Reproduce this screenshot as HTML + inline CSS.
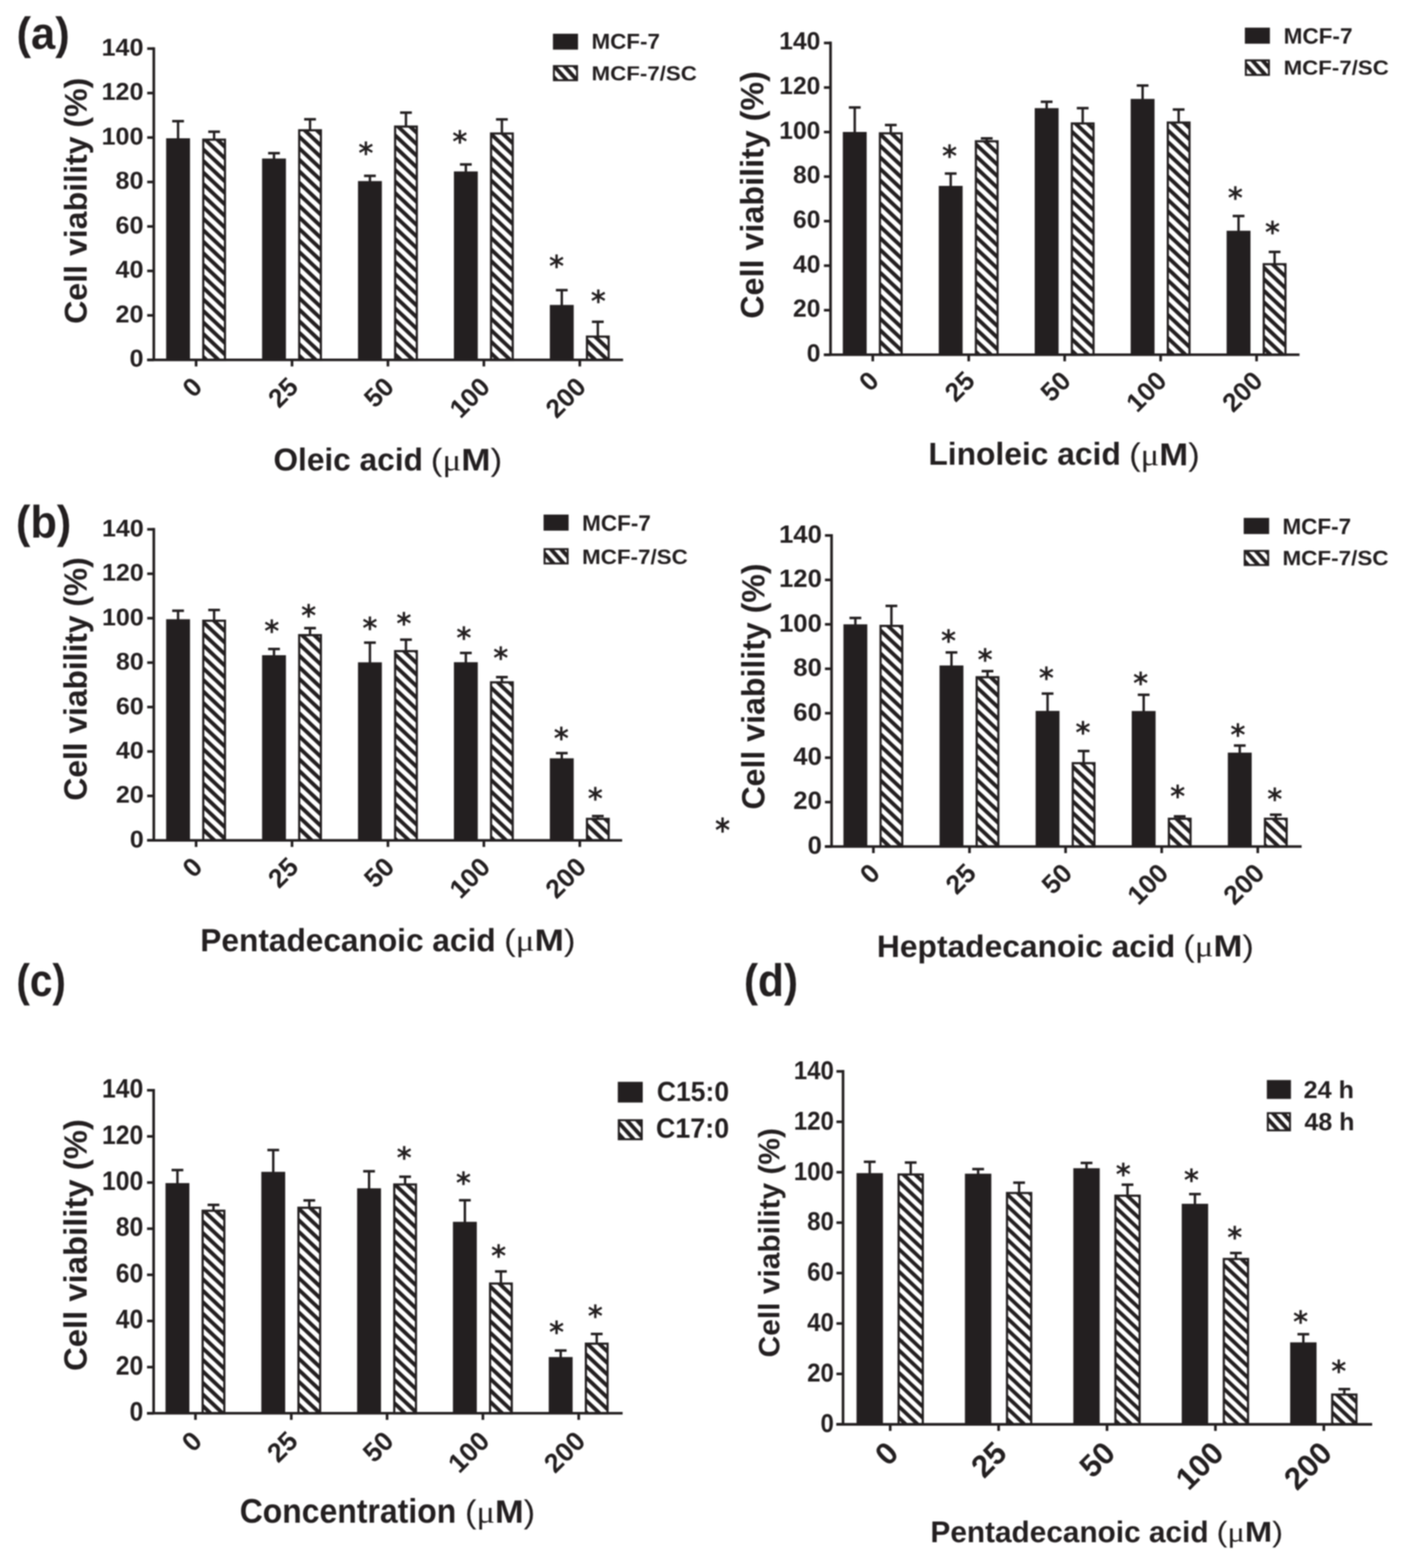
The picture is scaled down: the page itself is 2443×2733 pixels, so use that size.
<!DOCTYPE html>
<html><head><meta charset="utf-8"><title>Cell viability figure</title><style>
html,body{margin:0;padding:0;background:#fff;}
svg{display:block;filter:blur(0.8px);}
line{stroke:#231f20;}
text{font-family:'Liberation Sans', Arial, Helvetica, sans-serif;font-weight:bold;fill:#231f20;text-rendering:geometricPrecision;}
.st{font-family:'DejaVu Sans', sans-serif;font-size:50px;text-anchor:middle;}
</style></head><body>
<svg width="2443" height="2733" viewBox="0 0 2443 2733">
<defs>
<pattern id="hA" patternUnits="userSpaceOnUse" width="14.58" height="14.58" patternTransform="rotate(43.5)"><rect width="14.58" height="14.58" fill="#fff"/><rect width="14.58" height="6.71" fill="#231f20"/></pattern>
<pattern id="hA2" patternUnits="userSpaceOnUse" width="14.58" height="14.58" patternTransform="rotate(43.5)"><rect width="14.58" height="14.58" fill="#fff"/><rect width="14.58" height="6.71" fill="#231f20"/></pattern>
<pattern id="hB" patternUnits="userSpaceOnUse" width="14.58" height="14.58" patternTransform="rotate(43.5)"><rect width="14.58" height="14.58" fill="#fff"/><rect width="14.58" height="6.71" fill="#231f20"/></pattern>
<pattern id="hB2" patternUnits="userSpaceOnUse" width="14.58" height="14.58" patternTransform="rotate(43.5)"><rect width="14.58" height="14.58" fill="#fff"/><rect width="14.58" height="6.71" fill="#231f20"/></pattern>
<pattern id="hC" patternUnits="userSpaceOnUse" width="14.58" height="14.58" patternTransform="rotate(43.5)"><rect width="14.58" height="14.58" fill="#fff"/><rect width="14.58" height="6.71" fill="#231f20"/></pattern>
<pattern id="hD" patternUnits="userSpaceOnUse" width="14.22" height="14.22" patternTransform="rotate(43.5)"><rect width="14.22" height="14.22" fill="#fff"/><rect width="14.22" height="6.54" fill="#231f20"/></pattern>
<pattern id="hL" patternUnits="userSpaceOnUse" width="13.2" height="13.2" patternTransform="rotate(48) translate(0 3)"><rect width="13.2" height="13.2" fill="#fff"/><rect width="13.2" height="6.8" fill="#231f20"/></pattern>
</defs>
<rect width="2443" height="2733" fill="#fff" stroke="none"/>
<g id="panel_A"><line x1="310.3" y1="242" x2="310.3" y2="211.2" stroke-width="4.2"/>
<line x1="300.05" y1="211.2" x2="320.55" y2="211.2" stroke-width="4.4"/>
<rect x="289.5" y="241" width="41.6" height="386.2" fill="#231f20" stroke="none"/>
<line x1="373.1" y1="242.5" x2="373.1" y2="229.6" stroke-width="4.2"/>
<line x1="362.85" y1="229.6" x2="383.35" y2="229.6" stroke-width="4.4"/>
<rect x="354.2" y="243.4" width="37.8" height="383.8" fill="url(#hA)" stroke="#231f20" stroke-width="3.8"/>
<line x1="477.45" y1="277.3" x2="477.45" y2="267" stroke-width="4.2"/>
<line x1="467.2" y1="267" x2="487.7" y2="267" stroke-width="4.4"/>
<rect x="456.65" y="276.3" width="41.6" height="350.9" fill="#231f20" stroke="none"/>
<line x1="540.25" y1="226.2" x2="540.25" y2="207.9" stroke-width="4.2"/>
<line x1="530" y1="207.9" x2="550.5" y2="207.9" stroke-width="4.4"/>
<rect x="521.35" y="227.1" width="37.8" height="400.1" fill="url(#hA)" stroke="#231f20" stroke-width="3.8"/>
<line x1="644.6" y1="316.6" x2="644.6" y2="306.5" stroke-width="4.2"/>
<line x1="634.35" y1="306.5" x2="654.85" y2="306.5" stroke-width="4.4"/>
<rect x="623.8" y="315.6" width="41.6" height="311.6" fill="#231f20" stroke="none"/>
<text class="st" transform="translate(637.5 258.6) scale(1 1.04)" y="25.5">*</text>
<line x1="707.4" y1="219.7" x2="707.4" y2="196.3" stroke-width="4.2"/>
<line x1="697.15" y1="196.3" x2="717.65" y2="196.3" stroke-width="4.4"/>
<rect x="688.5" y="220.6" width="37.8" height="406.6" fill="url(#hA)" stroke="#231f20" stroke-width="3.8"/>
<line x1="811.75" y1="299.8" x2="811.75" y2="286.6" stroke-width="4.2"/>
<line x1="801.5" y1="286.6" x2="822" y2="286.6" stroke-width="4.4"/>
<rect x="790.95" y="298.8" width="41.6" height="328.4" fill="#231f20" stroke="none"/>
<text class="st" transform="translate(801.3 238) scale(1 1.04)" y="25.5">*</text>
<line x1="874.55" y1="231.8" x2="874.55" y2="208.1" stroke-width="4.2"/>
<line x1="864.3" y1="208.1" x2="884.8" y2="208.1" stroke-width="4.4"/>
<rect x="855.65" y="232.7" width="37.8" height="394.5" fill="url(#hA)" stroke="#231f20" stroke-width="3.8"/>
<line x1="978.9" y1="532.5" x2="978.9" y2="505.7" stroke-width="4.2"/>
<line x1="968.65" y1="505.7" x2="989.15" y2="505.7" stroke-width="4.4"/>
<rect x="958.1" y="531.5" width="41.6" height="95.7" fill="#231f20" stroke="none"/>
<text class="st" transform="translate(969.8 455.2) scale(1 1.04)" y="25.5">*</text>
<line x1="1041.7" y1="585.8" x2="1041.7" y2="560.9" stroke-width="4.2"/>
<line x1="1031.45" y1="560.9" x2="1051.95" y2="560.9" stroke-width="4.4"/>
<rect x="1022.8" y="586.7" width="37.8" height="40.5" fill="url(#hA)" stroke="#231f20" stroke-width="3.8"/>
<text class="st" transform="translate(1042.5 516.7) scale(1 1.04)" y="25.5">*</text>
<line x1="268" y1="82.4" x2="268" y2="627.2" stroke-width="4.6"/>
<line x1="256.5" y1="627.2" x2="1085.7" y2="627.2" stroke-width="4.6"/>
<line x1="256.5" y1="627.2" x2="268" y2="627.2" stroke-width="4.6"/>
<line x1="256.5" y1="549.7" x2="268" y2="549.7" stroke-width="4.6"/>
<line x1="256.5" y1="472.2" x2="268" y2="472.2" stroke-width="4.6"/>
<line x1="256.5" y1="394.7" x2="268" y2="394.7" stroke-width="4.6"/>
<line x1="256.5" y1="317.2" x2="268" y2="317.2" stroke-width="4.6"/>
<line x1="256.5" y1="239.7" x2="268" y2="239.7" stroke-width="4.6"/>
<line x1="256.5" y1="162.2" x2="268" y2="162.2" stroke-width="4.6"/>
<line x1="256.5" y1="84.7" x2="268" y2="84.7" stroke-width="4.6"/>
<line x1="341.7" y1="627.2" x2="341.7" y2="638.7" stroke-width="4.6"/>
<line x1="508.85" y1="627.2" x2="508.85" y2="638.7" stroke-width="4.6"/>
<line x1="676" y1="627.2" x2="676" y2="638.7" stroke-width="4.6"/>
<line x1="843.15" y1="627.2" x2="843.15" y2="638.7" stroke-width="4.6"/>
<line x1="1010.3" y1="627.2" x2="1010.3" y2="638.7" stroke-width="4.6"/>
<text id="yl_A_0" x="250.06" y="639.21" font-size="42.63" textLength="24.34" lengthAdjust="spacingAndGlyphs" text-anchor="end">0</text>
<text id="yl_A_1" x="250.06" y="561.71" font-size="42.63" textLength="48.69" lengthAdjust="spacingAndGlyphs" text-anchor="end">20</text>
<text id="yl_A_2" x="250.06" y="484.21" font-size="42.63" textLength="48.69" lengthAdjust="spacingAndGlyphs" text-anchor="end">40</text>
<text id="yl_A_3" x="250.06" y="406.71" font-size="42.63" textLength="48.69" lengthAdjust="spacingAndGlyphs" text-anchor="end">60</text>
<text id="yl_A_4" x="250.06" y="329.21" font-size="42.63" textLength="48.69" lengthAdjust="spacingAndGlyphs" text-anchor="end">80</text>
<text id="yl_A_5" x="250.06" y="251.71" font-size="42.63" textLength="73.03" lengthAdjust="spacingAndGlyphs" text-anchor="end">100</text>
<text id="yl_A_6" x="250.06" y="174.21" font-size="42.63" textLength="73.03" lengthAdjust="spacingAndGlyphs" text-anchor="end">120</text>
<text id="yl_A_7" x="250.06" y="96.71" font-size="42.63" textLength="73.03" lengthAdjust="spacingAndGlyphs" text-anchor="end">140</text>
<text id="xl_A_0" transform="translate(355.01 677.01) rotate(-45)" font-size="45.73" text-anchor="end">0</text>
<text id="xl_A_1" transform="translate(522.16 677.01) rotate(-45)" font-size="45.73" text-anchor="end">25</text>
<text id="xl_A_2" transform="translate(689.31 677.01) rotate(-45)" font-size="45.73" text-anchor="end">50</text>
<text id="xl_A_3" transform="translate(856.46 677.01) rotate(-45)" font-size="45.73" text-anchor="end">100</text>
<text id="xl_A_4" transform="translate(1023.61 677.01) rotate(-45)" font-size="45.73" text-anchor="end">200</text>
<rect x="963.5" y="58.8" width="43.7" height="27.7" fill="#231f20" stroke="none"/>
<rect x="965.2" y="115.2" width="40.3" height="24.6" fill="url(#hL)" stroke="#231f20" stroke-width="3.4"/></g>
<g id="panel_A2"><line x1="1489.4" y1="231" x2="1489.4" y2="187.3" stroke-width="4.2"/>
<line x1="1479.15" y1="187.3" x2="1499.65" y2="187.3" stroke-width="4.4"/>
<rect x="1468.6" y="230" width="41.6" height="388.3" fill="#231f20" stroke="none"/>
<line x1="1552.2" y1="231.5" x2="1552.2" y2="217.9" stroke-width="4.2"/>
<line x1="1541.95" y1="217.9" x2="1562.45" y2="217.9" stroke-width="4.4"/>
<rect x="1533.3" y="232.4" width="37.8" height="385.9" fill="url(#hA2)" stroke="#231f20" stroke-width="3.8"/>
<line x1="1656.6" y1="325" x2="1656.6" y2="302.5" stroke-width="4.2"/>
<line x1="1646.35" y1="302.5" x2="1666.85" y2="302.5" stroke-width="4.4"/>
<rect x="1635.8" y="324" width="41.6" height="294.3" fill="#231f20" stroke="none"/>
<text class="st" transform="translate(1654.7 263.4) scale(1 1.04)" y="25.5">*</text>
<line x1="1719.4" y1="245.4" x2="1719.4" y2="241.2" stroke-width="4.2"/>
<line x1="1709.15" y1="241.2" x2="1729.65" y2="241.2" stroke-width="4.4"/>
<rect x="1700.5" y="246.3" width="37.8" height="372" fill="url(#hA2)" stroke="#231f20" stroke-width="3.8"/>
<line x1="1823.8" y1="189.5" x2="1823.8" y2="177.4" stroke-width="4.2"/>
<line x1="1813.55" y1="177.4" x2="1834.05" y2="177.4" stroke-width="4.4"/>
<rect x="1803" y="188.5" width="41.6" height="429.8" fill="#231f20" stroke="none"/>
<line x1="1886.6" y1="214.3" x2="1886.6" y2="188.5" stroke-width="4.2"/>
<line x1="1876.35" y1="188.5" x2="1896.85" y2="188.5" stroke-width="4.4"/>
<rect x="1867.7" y="215.2" width="37.8" height="403.1" fill="url(#hA2)" stroke="#231f20" stroke-width="3.8"/>
<line x1="1991" y1="173.4" x2="1991" y2="149.1" stroke-width="4.2"/>
<line x1="1980.75" y1="149.1" x2="2001.25" y2="149.1" stroke-width="4.4"/>
<rect x="1970.2" y="172.4" width="41.6" height="445.9" fill="#231f20" stroke="none"/>
<line x1="2053.8" y1="212.7" x2="2053.8" y2="190.9" stroke-width="4.2"/>
<line x1="2043.55" y1="190.9" x2="2064.05" y2="190.9" stroke-width="4.4"/>
<rect x="2034.9" y="213.6" width="37.8" height="404.7" fill="url(#hA2)" stroke="#231f20" stroke-width="3.8"/>
<line x1="2158.2" y1="403.2" x2="2158.2" y2="376.5" stroke-width="4.2"/>
<line x1="2147.95" y1="376.5" x2="2168.45" y2="376.5" stroke-width="4.4"/>
<rect x="2137.4" y="402.2" width="41.6" height="216.1" fill="#231f20" stroke="none"/>
<text class="st" transform="translate(2152.6 336.8) scale(1 1.04)" y="25.5">*</text>
<line x1="2221" y1="459.6" x2="2221" y2="439.1" stroke-width="4.2"/>
<line x1="2210.75" y1="439.1" x2="2231.25" y2="439.1" stroke-width="4.4"/>
<rect x="2202.1" y="460.5" width="37.8" height="157.8" fill="url(#hA2)" stroke="#231f20" stroke-width="3.8"/>
<text class="st" transform="translate(2217.4 396.8) scale(1 1.04)" y="25.5">*</text>
<line x1="1447.2" y1="72.6" x2="1447.2" y2="618.3" stroke-width="4.6"/>
<line x1="1435.7" y1="618.3" x2="2264.4" y2="618.3" stroke-width="4.6"/>
<line x1="1435.7" y1="618.3" x2="1447.2" y2="618.3" stroke-width="4.6"/>
<line x1="1435.7" y1="540.67" x2="1447.2" y2="540.67" stroke-width="4.6"/>
<line x1="1435.7" y1="463.04" x2="1447.2" y2="463.04" stroke-width="4.6"/>
<line x1="1435.7" y1="385.41" x2="1447.2" y2="385.41" stroke-width="4.6"/>
<line x1="1435.7" y1="307.79" x2="1447.2" y2="307.79" stroke-width="4.6"/>
<line x1="1435.7" y1="230.16" x2="1447.2" y2="230.16" stroke-width="4.6"/>
<line x1="1435.7" y1="152.53" x2="1447.2" y2="152.53" stroke-width="4.6"/>
<line x1="1435.7" y1="74.9" x2="1447.2" y2="74.9" stroke-width="4.6"/>
<line x1="1520.8" y1="618.3" x2="1520.8" y2="629.8" stroke-width="4.6"/>
<line x1="1688" y1="618.3" x2="1688" y2="629.8" stroke-width="4.6"/>
<line x1="1855.2" y1="618.3" x2="1855.2" y2="629.8" stroke-width="4.6"/>
<line x1="2022.4" y1="618.3" x2="2022.4" y2="629.8" stroke-width="4.6"/>
<line x1="2189.6" y1="618.3" x2="2189.6" y2="629.8" stroke-width="4.6"/>
<text id="yl_A2_0" x="1429.55" y="629.77" font-size="43.17" textLength="23.92" lengthAdjust="spacingAndGlyphs" text-anchor="end">0</text>
<text id="yl_A2_1" x="1429.55" y="552.14" font-size="43.17" textLength="47.83" lengthAdjust="spacingAndGlyphs" text-anchor="end">20</text>
<text id="yl_A2_2" x="1429.55" y="474.51" font-size="43.17" textLength="47.83" lengthAdjust="spacingAndGlyphs" text-anchor="end">40</text>
<text id="yl_A2_3" x="1429.55" y="396.88" font-size="43.17" textLength="47.83" lengthAdjust="spacingAndGlyphs" text-anchor="end">60</text>
<text id="yl_A2_4" x="1429.55" y="319.25" font-size="43.17" textLength="47.83" lengthAdjust="spacingAndGlyphs" text-anchor="end">80</text>
<text id="yl_A2_5" x="1429.55" y="241.62" font-size="43.17" textLength="71.75" lengthAdjust="spacingAndGlyphs" text-anchor="end">100</text>
<text id="yl_A2_6" x="1429.55" y="164" font-size="43.17" textLength="71.75" lengthAdjust="spacingAndGlyphs" text-anchor="end">120</text>
<text id="yl_A2_7" x="1429.55" y="86.37" font-size="43.17" textLength="71.75" lengthAdjust="spacingAndGlyphs" text-anchor="end">140</text>
<text id="xl_A2_0" transform="translate(1534.03 666.57) rotate(-45)" font-size="45.86" text-anchor="end">0</text>
<text id="xl_A2_1" transform="translate(1701.23 666.57) rotate(-45)" font-size="45.86" text-anchor="end">25</text>
<text id="xl_A2_2" transform="translate(1868.43 666.57) rotate(-45)" font-size="45.86" text-anchor="end">50</text>
<text id="xl_A2_3" transform="translate(2035.63 666.57) rotate(-45)" font-size="45.86" text-anchor="end">100</text>
<text id="xl_A2_4" transform="translate(2202.83 666.57) rotate(-45)" font-size="45.86" text-anchor="end">200</text>
<rect x="2169.2" y="48.2" width="43.6" height="28" fill="#231f20" stroke="none"/>
<rect x="2170.9" y="105.2" width="40.2" height="25.4" fill="url(#hL)" stroke="#231f20" stroke-width="3.4"/></g>
<g id="panel_B"><line x1="310.3" y1="1080.3" x2="310.3" y2="1064.5" stroke-width="4.2"/>
<line x1="300.05" y1="1064.5" x2="320.55" y2="1064.5" stroke-width="4.4"/>
<rect x="289.5" y="1079.3" width="41.6" height="385.4" fill="#231f20" stroke="none"/>
<line x1="373.1" y1="1081" x2="373.1" y2="1063.2" stroke-width="4.2"/>
<line x1="362.85" y1="1063.2" x2="383.35" y2="1063.2" stroke-width="4.4"/>
<rect x="354.2" y="1081.9" width="37.8" height="382.8" fill="url(#hB)" stroke="#231f20" stroke-width="3.8"/>
<line x1="477.45" y1="1143" x2="477.45" y2="1131.2" stroke-width="4.2"/>
<line x1="467.2" y1="1131.2" x2="487.7" y2="1131.2" stroke-width="4.4"/>
<rect x="456.65" y="1142" width="41.6" height="322.7" fill="#231f20" stroke="none"/>
<text class="st" transform="translate(473.5 1091.7) scale(1 1.04)" y="25.5">*</text>
<line x1="540.25" y1="1106.1" x2="540.25" y2="1094.8" stroke-width="4.2"/>
<line x1="530" y1="1094.8" x2="550.5" y2="1094.8" stroke-width="4.4"/>
<rect x="521.35" y="1107" width="37.8" height="357.7" fill="url(#hB)" stroke="#231f20" stroke-width="3.8"/>
<text class="st" transform="translate(537.8 1064.5) scale(1 1.04)" y="25.5">*</text>
<line x1="644.6" y1="1155.4" x2="644.6" y2="1120.1" stroke-width="4.2"/>
<line x1="634.35" y1="1120.1" x2="654.85" y2="1120.1" stroke-width="4.4"/>
<rect x="623.8" y="1154.4" width="41.6" height="310.3" fill="#231f20" stroke="none"/>
<text class="st" transform="translate(644.5 1086.5) scale(1 1.04)" y="25.5">*</text>
<line x1="707.4" y1="1134" x2="707.4" y2="1114.9" stroke-width="4.2"/>
<line x1="697.15" y1="1114.9" x2="717.65" y2="1114.9" stroke-width="4.4"/>
<rect x="688.5" y="1134.9" width="37.8" height="329.8" fill="url(#hB)" stroke="#231f20" stroke-width="3.8"/>
<text class="st" transform="translate(703.9 1078.7) scale(1 1.04)" y="25.5">*</text>
<line x1="811.75" y1="1155.2" x2="811.75" y2="1138.1" stroke-width="4.2"/>
<line x1="801.5" y1="1138.1" x2="822" y2="1138.1" stroke-width="4.4"/>
<rect x="790.95" y="1154.2" width="41.6" height="310.5" fill="#231f20" stroke="none"/>
<text class="st" transform="translate(808.3 1103.3) scale(1 1.04)" y="25.5">*</text>
<line x1="874.55" y1="1188.4" x2="874.55" y2="1180.2" stroke-width="4.2"/>
<line x1="864.3" y1="1180.2" x2="884.8" y2="1180.2" stroke-width="4.4"/>
<rect x="855.65" y="1189.3" width="37.8" height="275.4" fill="url(#hB)" stroke="#231f20" stroke-width="3.8"/>
<text class="st" transform="translate(872.7 1138.5) scale(1 1.04)" y="25.5">*</text>
<line x1="978.9" y1="1322.7" x2="978.9" y2="1312.7" stroke-width="4.2"/>
<line x1="968.65" y1="1312.7" x2="989.15" y2="1312.7" stroke-width="4.4"/>
<rect x="958.1" y="1321.7" width="41.6" height="143" fill="#231f20" stroke="none"/>
<text class="st" transform="translate(978 1278.4) scale(1 1.04)" y="25.5">*</text>
<line x1="1041.7" y1="1426.4" x2="1041.7" y2="1422.4" stroke-width="4.2"/>
<line x1="1031.45" y1="1422.4" x2="1051.95" y2="1422.4" stroke-width="4.4"/>
<rect x="1022.8" y="1427.3" width="37.8" height="37.4" fill="url(#hB)" stroke="#231f20" stroke-width="3.8"/>
<text class="st" transform="translate(1037.4 1383.1) scale(1 1.04)" y="25.5">*</text>
<line x1="268" y1="920.3" x2="268" y2="1464.7" stroke-width="4.6"/>
<line x1="256.5" y1="1464.7" x2="1084.1" y2="1464.7" stroke-width="4.6"/>
<line x1="256.5" y1="1464.7" x2="268" y2="1464.7" stroke-width="4.6"/>
<line x1="256.5" y1="1387.26" x2="268" y2="1387.26" stroke-width="4.6"/>
<line x1="256.5" y1="1309.81" x2="268" y2="1309.81" stroke-width="4.6"/>
<line x1="256.5" y1="1232.37" x2="268" y2="1232.37" stroke-width="4.6"/>
<line x1="256.5" y1="1154.93" x2="268" y2="1154.93" stroke-width="4.6"/>
<line x1="256.5" y1="1077.49" x2="268" y2="1077.49" stroke-width="4.6"/>
<line x1="256.5" y1="1000.04" x2="268" y2="1000.04" stroke-width="4.6"/>
<line x1="256.5" y1="922.6" x2="268" y2="922.6" stroke-width="4.6"/>
<line x1="341.7" y1="1464.7" x2="341.7" y2="1476.2" stroke-width="4.6"/>
<line x1="508.85" y1="1464.7" x2="508.85" y2="1476.2" stroke-width="4.6"/>
<line x1="676" y1="1464.7" x2="676" y2="1476.2" stroke-width="4.6"/>
<line x1="843.15" y1="1464.7" x2="843.15" y2="1476.2" stroke-width="4.6"/>
<line x1="1010.3" y1="1464.7" x2="1010.3" y2="1476.2" stroke-width="4.6"/>
<text id="yl_B_0" x="250.56" y="1476.87" font-size="42.05" textLength="24.26" lengthAdjust="spacingAndGlyphs" text-anchor="end">0</text>
<text id="yl_B_1" x="250.56" y="1399.43" font-size="42.05" textLength="48.51" lengthAdjust="spacingAndGlyphs" text-anchor="end">20</text>
<text id="yl_B_2" x="250.56" y="1321.98" font-size="42.05" textLength="48.51" lengthAdjust="spacingAndGlyphs" text-anchor="end">40</text>
<text id="yl_B_3" x="250.56" y="1244.54" font-size="42.05" textLength="48.51" lengthAdjust="spacingAndGlyphs" text-anchor="end">60</text>
<text id="yl_B_4" x="250.56" y="1167.1" font-size="42.05" textLength="48.51" lengthAdjust="spacingAndGlyphs" text-anchor="end">80</text>
<text id="yl_B_5" x="250.56" y="1089.66" font-size="42.05" textLength="72.77" lengthAdjust="spacingAndGlyphs" text-anchor="end">100</text>
<text id="yl_B_6" x="250.56" y="1012.21" font-size="42.05" textLength="72.77" lengthAdjust="spacingAndGlyphs" text-anchor="end">120</text>
<text id="yl_B_7" x="250.56" y="934.77" font-size="42.05" textLength="72.77" lengthAdjust="spacingAndGlyphs" text-anchor="end">140</text>
<text id="xl_B_0" transform="translate(355.49 1513.91) rotate(-45)" font-size="46.18" text-anchor="end">0</text>
<text id="xl_B_1" transform="translate(522.64 1513.91) rotate(-45)" font-size="46.18" text-anchor="end">25</text>
<text id="xl_B_2" transform="translate(689.79 1513.91) rotate(-45)" font-size="46.18" text-anchor="end">50</text>
<text id="xl_B_3" transform="translate(856.94 1513.91) rotate(-45)" font-size="46.18" text-anchor="end">100</text>
<text id="xl_B_4" transform="translate(1024.09 1513.91) rotate(-45)" font-size="46.18" text-anchor="end">200</text>
<rect x="947.2" y="896.9" width="43.6" height="28" fill="#231f20" stroke="none"/>
<rect x="948.9" y="957.1" width="40.2" height="25" fill="url(#hL)" stroke="#231f20" stroke-width="3.4"/></g>
<g id="panel_B2"><line x1="1490.5" y1="1089.2" x2="1490.5" y2="1077.1" stroke-width="4.2"/>
<line x1="1480.25" y1="1077.1" x2="1500.75" y2="1077.1" stroke-width="4.4"/>
<rect x="1469.7" y="1088.2" width="41.6" height="387.3" fill="#231f20" stroke="none"/>
<line x1="1553.3" y1="1090" x2="1553.3" y2="1056.1" stroke-width="4.2"/>
<line x1="1543.05" y1="1056.1" x2="1563.55" y2="1056.1" stroke-width="4.4"/>
<rect x="1534.4" y="1090.9" width="37.8" height="384.6" fill="url(#hB2)" stroke="#231f20" stroke-width="3.8"/>
<line x1="1657.95" y1="1160.9" x2="1657.95" y2="1137.2" stroke-width="4.2"/>
<line x1="1647.7" y1="1137.2" x2="1668.2" y2="1137.2" stroke-width="4.4"/>
<rect x="1637.15" y="1159.9" width="41.6" height="315.6" fill="#231f20" stroke="none"/>
<text class="st" transform="translate(1652.8 1108) scale(1 1.04)" y="25.5">*</text>
<line x1="1720.75" y1="1179.5" x2="1720.75" y2="1169.8" stroke-width="4.2"/>
<line x1="1710.5" y1="1169.8" x2="1731" y2="1169.8" stroke-width="4.4"/>
<rect x="1701.85" y="1180.4" width="37.8" height="295.1" fill="url(#hB2)" stroke="#231f20" stroke-width="3.8"/>
<text class="st" transform="translate(1716.6 1141.4) scale(1 1.04)" y="25.5">*</text>
<line x1="1825.4" y1="1240.1" x2="1825.4" y2="1208.9" stroke-width="4.2"/>
<line x1="1815.15" y1="1208.9" x2="1835.65" y2="1208.9" stroke-width="4.4"/>
<rect x="1804.6" y="1239.1" width="41.6" height="236.4" fill="#231f20" stroke="none"/>
<text class="st" transform="translate(1823.4 1173.5) scale(1 1.04)" y="25.5">*</text>
<line x1="1888.2" y1="1329.3" x2="1888.2" y2="1309" stroke-width="4.2"/>
<line x1="1877.95" y1="1309" x2="1898.45" y2="1309" stroke-width="4.4"/>
<rect x="1869.3" y="1330.2" width="37.8" height="145.3" fill="url(#hB2)" stroke="#231f20" stroke-width="3.8"/>
<text class="st" transform="translate(1887 1268.8) scale(1 1.04)" y="25.5">*</text>
<line x1="1992.85" y1="1240.3" x2="1992.85" y2="1211" stroke-width="4.2"/>
<line x1="1982.6" y1="1211" x2="2003.1" y2="1211" stroke-width="4.4"/>
<rect x="1972.05" y="1239.3" width="41.6" height="236.2" fill="#231f20" stroke="none"/>
<text class="st" transform="translate(1987.7 1182.6) scale(1 1.04)" y="25.5">*</text>
<line x1="2055.65" y1="1426.2" x2="2055.65" y2="1422.9" stroke-width="4.2"/>
<line x1="2045.4" y1="1422.9" x2="2065.9" y2="1422.9" stroke-width="4.4"/>
<rect x="2036.75" y="1427.1" width="37.8" height="48.4" fill="url(#hB2)" stroke="#231f20" stroke-width="3.8"/>
<text class="st" transform="translate(2052 1379.9) scale(1 1.04)" y="25.5">*</text>
<line x1="2160.3" y1="1312.8" x2="2160.3" y2="1299.5" stroke-width="4.2"/>
<line x1="2150.05" y1="1299.5" x2="2170.55" y2="1299.5" stroke-width="4.4"/>
<rect x="2139.5" y="1311.8" width="41.6" height="163.7" fill="#231f20" stroke="none"/>
<text class="st" transform="translate(2157.1 1272.4) scale(1 1.04)" y="25.5">*</text>
<line x1="2223.1" y1="1426.2" x2="2223.1" y2="1420" stroke-width="4.2"/>
<line x1="2212.85" y1="1420" x2="2233.35" y2="1420" stroke-width="4.4"/>
<rect x="2204.2" y="1427.1" width="37.8" height="48.4" fill="url(#hB2)" stroke="#231f20" stroke-width="3.8"/>
<text class="st" transform="translate(2221.4 1384.6) scale(1 1.04)" y="25.5">*</text>
<line x1="1449" y1="931" x2="1449" y2="1475.5" stroke-width="4.6"/>
<line x1="1437.5" y1="1475.5" x2="2268.1" y2="1475.5" stroke-width="4.6"/>
<line x1="1437.5" y1="1475.5" x2="1449" y2="1475.5" stroke-width="4.6"/>
<line x1="1437.5" y1="1398.04" x2="1449" y2="1398.04" stroke-width="4.6"/>
<line x1="1437.5" y1="1320.59" x2="1449" y2="1320.59" stroke-width="4.6"/>
<line x1="1437.5" y1="1243.13" x2="1449" y2="1243.13" stroke-width="4.6"/>
<line x1="1437.5" y1="1165.67" x2="1449" y2="1165.67" stroke-width="4.6"/>
<line x1="1437.5" y1="1088.21" x2="1449" y2="1088.21" stroke-width="4.6"/>
<line x1="1437.5" y1="1010.76" x2="1449" y2="1010.76" stroke-width="4.6"/>
<line x1="1437.5" y1="933.3" x2="1449" y2="933.3" stroke-width="4.6"/>
<line x1="1521.9" y1="1475.5" x2="1521.9" y2="1487" stroke-width="4.6"/>
<line x1="1689.35" y1="1475.5" x2="1689.35" y2="1487" stroke-width="4.6"/>
<line x1="1856.8" y1="1475.5" x2="1856.8" y2="1487" stroke-width="4.6"/>
<line x1="2024.25" y1="1475.5" x2="2024.25" y2="1487" stroke-width="4.6"/>
<line x1="2191.7" y1="1475.5" x2="2191.7" y2="1487" stroke-width="4.6"/>
<text id="yl_B2_0" x="1432.1" y="1487.94" font-size="43.69" textLength="24.9" lengthAdjust="spacingAndGlyphs" text-anchor="end">0</text>
<text id="yl_B2_1" x="1432.1" y="1410.49" font-size="43.69" textLength="49.79" lengthAdjust="spacingAndGlyphs" text-anchor="end">20</text>
<text id="yl_B2_2" x="1432.1" y="1333.03" font-size="43.69" textLength="49.79" lengthAdjust="spacingAndGlyphs" text-anchor="end">40</text>
<text id="yl_B2_3" x="1432.1" y="1255.57" font-size="43.69" textLength="49.79" lengthAdjust="spacingAndGlyphs" text-anchor="end">60</text>
<text id="yl_B2_4" x="1432.1" y="1178.11" font-size="43.69" textLength="49.79" lengthAdjust="spacingAndGlyphs" text-anchor="end">80</text>
<text id="yl_B2_5" x="1432.1" y="1100.66" font-size="43.69" textLength="74.69" lengthAdjust="spacingAndGlyphs" text-anchor="end">100</text>
<text id="yl_B2_6" x="1432.1" y="1023.2" font-size="43.69" textLength="74.69" lengthAdjust="spacingAndGlyphs" text-anchor="end">120</text>
<text id="yl_B2_7" x="1432.1" y="945.74" font-size="43.69" textLength="74.69" lengthAdjust="spacingAndGlyphs" text-anchor="end">140</text>
<text id="xl_B2_0" transform="translate(1536.17 1524.7) rotate(-45)" font-size="46.5" text-anchor="end">0</text>
<text id="xl_B2_1" transform="translate(1703.62 1524.7) rotate(-45)" font-size="46.5" text-anchor="end">25</text>
<text id="xl_B2_2" transform="translate(1871.07 1524.7) rotate(-45)" font-size="46.5" text-anchor="end">50</text>
<text id="xl_B2_3" transform="translate(2038.52 1524.7) rotate(-45)" font-size="46.5" text-anchor="end">100</text>
<text id="xl_B2_4" transform="translate(2205.97 1524.7) rotate(-45)" font-size="46.5" text-anchor="end">200</text>
<rect x="2167.2" y="902.7" width="44.3" height="28.1" fill="#231f20" stroke="none"/>
<rect x="2168.9" y="960.2" width="40.9" height="24.6" fill="url(#hL)" stroke="#231f20" stroke-width="3.4"/></g>
<g id="panel_C"><line x1="309.2" y1="2063.1" x2="309.2" y2="2039.4" stroke-width="4.2"/>
<line x1="298.95" y1="2039.4" x2="319.45" y2="2039.4" stroke-width="4.4"/>
<rect x="288.4" y="2062.1" width="41.6" height="401.2" fill="#231f20" stroke="none"/>
<line x1="372" y1="2109.4" x2="372" y2="2100.1" stroke-width="4.2"/>
<line x1="361.75" y1="2100.1" x2="382.25" y2="2100.1" stroke-width="4.4"/>
<rect x="353.1" y="2110.3" width="37.8" height="353" fill="url(#hC)" stroke="#231f20" stroke-width="3.8"/>
<line x1="476.15" y1="2043.5" x2="476.15" y2="2004.5" stroke-width="4.2"/>
<line x1="465.9" y1="2004.5" x2="486.4" y2="2004.5" stroke-width="4.4"/>
<rect x="455.35" y="2042.5" width="41.6" height="420.8" fill="#231f20" stroke="none"/>
<line x1="538.95" y1="2104.2" x2="538.95" y2="2092.3" stroke-width="4.2"/>
<line x1="528.7" y1="2092.3" x2="549.2" y2="2092.3" stroke-width="4.4"/>
<rect x="520.05" y="2105.1" width="37.8" height="358.2" fill="url(#hC)" stroke="#231f20" stroke-width="3.8"/>
<line x1="643.1" y1="2072.2" x2="643.1" y2="2041.5" stroke-width="4.2"/>
<line x1="632.85" y1="2041.5" x2="653.35" y2="2041.5" stroke-width="4.4"/>
<rect x="622.3" y="2071.2" width="41.6" height="392.1" fill="#231f20" stroke="none"/>
<line x1="705.9" y1="2063.6" x2="705.9" y2="2051" stroke-width="4.2"/>
<line x1="695.65" y1="2051" x2="716.15" y2="2051" stroke-width="4.4"/>
<rect x="687" y="2064.5" width="37.8" height="398.8" fill="url(#hC)" stroke="#231f20" stroke-width="3.8"/>
<text class="st" transform="translate(704.3 2009.1) scale(1 1.04)" y="25.5">*</text>
<line x1="810.05" y1="2130.6" x2="810.05" y2="2092" stroke-width="4.2"/>
<line x1="799.8" y1="2092" x2="820.3" y2="2092" stroke-width="4.4"/>
<rect x="789.25" y="2129.6" width="41.6" height="333.7" fill="#231f20" stroke="none"/>
<text class="st" transform="translate(807.7 2053.2) scale(1 1.04)" y="25.5">*</text>
<line x1="872.85" y1="2236.3" x2="872.85" y2="2216.1" stroke-width="4.2"/>
<line x1="862.6" y1="2216.1" x2="883.1" y2="2216.1" stroke-width="4.4"/>
<rect x="853.95" y="2237.2" width="37.8" height="226.1" fill="url(#hC)" stroke="#231f20" stroke-width="3.8"/>
<text class="st" transform="translate(868.9 2180.7) scale(1 1.04)" y="25.5">*</text>
<line x1="977" y1="2366.3" x2="977" y2="2353.9" stroke-width="4.2"/>
<line x1="966.75" y1="2353.9" x2="987.25" y2="2353.9" stroke-width="4.4"/>
<rect x="956.2" y="2365.3" width="41.6" height="98" fill="#231f20" stroke="none"/>
<text class="st" transform="translate(969.8 2313.7) scale(1 1.04)" y="25.5">*</text>
<line x1="1039.8" y1="2341.1" x2="1039.8" y2="2325.1" stroke-width="4.2"/>
<line x1="1029.55" y1="2325.1" x2="1050.05" y2="2325.1" stroke-width="4.4"/>
<rect x="1020.9" y="2342" width="37.8" height="121.3" fill="url(#hC)" stroke="#231f20" stroke-width="3.8"/>
<text class="st" transform="translate(1037.4 2285.9) scale(1 1.04)" y="25.5">*</text>
<line x1="267.7" y1="1898" x2="267.7" y2="2463.3" stroke-width="4.6"/>
<line x1="256.2" y1="2463.3" x2="1084.9" y2="2463.3" stroke-width="4.6"/>
<line x1="256.2" y1="2463.3" x2="267.7" y2="2463.3" stroke-width="4.6"/>
<line x1="256.2" y1="2382.87" x2="267.7" y2="2382.87" stroke-width="4.6"/>
<line x1="256.2" y1="2302.44" x2="267.7" y2="2302.44" stroke-width="4.6"/>
<line x1="256.2" y1="2222.01" x2="267.7" y2="2222.01" stroke-width="4.6"/>
<line x1="256.2" y1="2141.59" x2="267.7" y2="2141.59" stroke-width="4.6"/>
<line x1="256.2" y1="2061.16" x2="267.7" y2="2061.16" stroke-width="4.6"/>
<line x1="256.2" y1="1980.73" x2="267.7" y2="1980.73" stroke-width="4.6"/>
<line x1="256.2" y1="1900.3" x2="267.7" y2="1900.3" stroke-width="4.6"/>
<line x1="340.6" y1="2463.3" x2="340.6" y2="2474.8" stroke-width="4.6"/>
<line x1="507.55" y1="2463.3" x2="507.55" y2="2474.8" stroke-width="4.6"/>
<line x1="674.5" y1="2463.3" x2="674.5" y2="2474.8" stroke-width="4.6"/>
<line x1="841.45" y1="2463.3" x2="841.45" y2="2474.8" stroke-width="4.6"/>
<line x1="1008.4" y1="2463.3" x2="1008.4" y2="2474.8" stroke-width="4.6"/>
<text id="yl_C_0" x="249.56" y="2476.19" font-size="46.41" textLength="23.92" lengthAdjust="spacingAndGlyphs" text-anchor="end">0</text>
<text id="yl_C_1" x="249.56" y="2395.76" font-size="46.41" textLength="47.84" lengthAdjust="spacingAndGlyphs" text-anchor="end">20</text>
<text id="yl_C_2" x="249.56" y="2315.33" font-size="46.41" textLength="47.84" lengthAdjust="spacingAndGlyphs" text-anchor="end">40</text>
<text id="yl_C_3" x="249.56" y="2234.9" font-size="46.41" textLength="47.84" lengthAdjust="spacingAndGlyphs" text-anchor="end">60</text>
<text id="yl_C_4" x="249.56" y="2154.47" font-size="46.41" textLength="47.84" lengthAdjust="spacingAndGlyphs" text-anchor="end">80</text>
<text id="yl_C_5" x="249.56" y="2074.05" font-size="46.41" textLength="71.76" lengthAdjust="spacingAndGlyphs" text-anchor="end">100</text>
<text id="yl_C_6" x="249.56" y="1993.62" font-size="46.41" textLength="71.76" lengthAdjust="spacingAndGlyphs" text-anchor="end">120</text>
<text id="yl_C_7" x="249.56" y="1913.19" font-size="46.41" textLength="71.76" lengthAdjust="spacingAndGlyphs" text-anchor="end">140</text>
<text id="xl_C_0" transform="translate(354.75 2514.58) rotate(-45)" font-size="46.84" text-anchor="end">0</text>
<text id="xl_C_1" transform="translate(521.7 2514.58) rotate(-45)" font-size="46.84" text-anchor="end">25</text>
<text id="xl_C_2" transform="translate(688.65 2514.58) rotate(-45)" font-size="46.84" text-anchor="end">50</text>
<text id="xl_C_3" transform="translate(855.6 2514.58) rotate(-45)" font-size="46.84" text-anchor="end">100</text>
<text id="xl_C_4" transform="translate(1022.55 2514.58) rotate(-45)" font-size="46.84" text-anchor="end">200</text>
<rect x="1076.5" y="1885.6" width="43.5" height="36.1" fill="#231f20" stroke="none"/>
<rect x="1078.2" y="1952.5" width="40.1" height="33.2" fill="url(#hL)" stroke="#231f20" stroke-width="3.4"/></g>
<g id="panel_D"><line x1="1515.5" y1="2045.7" x2="1515.5" y2="2025" stroke-width="4.2"/>
<line x1="1505.25" y1="2025" x2="1525.75" y2="2025" stroke-width="4.4"/>
<rect x="1492.5" y="2044.7" width="46" height="437.9" fill="#231f20" stroke="none"/>
<line x1="1586.9" y1="2046.2" x2="1586.9" y2="2026.3" stroke-width="4.2"/>
<line x1="1576.65" y1="2026.3" x2="1597.15" y2="2026.3" stroke-width="4.4"/>
<rect x="1565.8" y="2047.1" width="42.2" height="435.5" fill="url(#hD)" stroke="#231f20" stroke-width="3.8"/>
<line x1="1704.4" y1="2046.7" x2="1704.4" y2="2037.7" stroke-width="4.2"/>
<line x1="1694.15" y1="2037.7" x2="1714.65" y2="2037.7" stroke-width="4.4"/>
<rect x="1681.4" y="2045.7" width="46" height="436.9" fill="#231f20" stroke="none"/>
<line x1="1775.8" y1="2078.5" x2="1775.8" y2="2061.4" stroke-width="4.2"/>
<line x1="1765.55" y1="2061.4" x2="1786.05" y2="2061.4" stroke-width="4.4"/>
<rect x="1754.7" y="2079.4" width="42.2" height="403.2" fill="url(#hD)" stroke="#231f20" stroke-width="3.8"/>
<line x1="1893.3" y1="2037.2" x2="1893.3" y2="2027" stroke-width="4.2"/>
<line x1="1883.05" y1="2027" x2="1903.55" y2="2027" stroke-width="4.4"/>
<rect x="1870.3" y="2036.2" width="46" height="446.4" fill="#231f20" stroke="none"/>
<line x1="1964.7" y1="2083.2" x2="1964.7" y2="2064.9" stroke-width="4.2"/>
<line x1="1954.45" y1="2064.9" x2="1974.95" y2="2064.9" stroke-width="4.4"/>
<rect x="1943.6" y="2084.1" width="42.2" height="398.5" fill="url(#hD)" stroke="#231f20" stroke-width="3.8"/>
<text class="st" transform="translate(1957.3 2038.4) scale(1 1.04)" y="25.5">*</text>
<line x1="2082.2" y1="2099.2" x2="2082.2" y2="2081.3" stroke-width="4.2"/>
<line x1="2071.95" y1="2081.3" x2="2092.45" y2="2081.3" stroke-width="4.4"/>
<rect x="2059.2" y="2098.2" width="46" height="384.4" fill="#231f20" stroke="none"/>
<text class="st" transform="translate(2076 2048.3) scale(1 1.04)" y="25.5">*</text>
<line x1="2153.6" y1="2193.5" x2="2153.6" y2="2184" stroke-width="4.2"/>
<line x1="2143.35" y1="2184" x2="2163.85" y2="2184" stroke-width="4.4"/>
<rect x="2132.5" y="2194.4" width="42.2" height="288.2" fill="url(#hD)" stroke="#231f20" stroke-width="3.8"/>
<text class="st" transform="translate(2151.6 2148.7) scale(1 1.04)" y="25.5">*</text>
<line x1="2271.1" y1="2340.7" x2="2271.1" y2="2325.5" stroke-width="4.2"/>
<line x1="2260.85" y1="2325.5" x2="2281.35" y2="2325.5" stroke-width="4.4"/>
<rect x="2248.1" y="2339.7" width="46" height="142.9" fill="#231f20" stroke="none"/>
<text class="st" transform="translate(2266.4 2295.2) scale(1 1.04)" y="25.5">*</text>
<line x1="2342.5" y1="2429.8" x2="2342.5" y2="2421.2" stroke-width="4.2"/>
<line x1="2332.25" y1="2421.2" x2="2352.75" y2="2421.2" stroke-width="4.4"/>
<rect x="2321.4" y="2430.7" width="42.2" height="51.9" fill="url(#hD)" stroke="#231f20" stroke-width="3.8"/>
<text class="st" transform="translate(2332.9 2381.4) scale(1 1.04)" y="25.5">*</text>
<line x1="1469" y1="1865.1" x2="1469" y2="2482.6" stroke-width="4.6"/>
<line x1="1457.5" y1="2482.6" x2="2391" y2="2482.6" stroke-width="4.6"/>
<line x1="1457.5" y1="2482.6" x2="1469" y2="2482.6" stroke-width="4.6"/>
<line x1="1457.5" y1="2394.71" x2="1469" y2="2394.71" stroke-width="4.6"/>
<line x1="1457.5" y1="2306.83" x2="1469" y2="2306.83" stroke-width="4.6"/>
<line x1="1457.5" y1="2218.94" x2="1469" y2="2218.94" stroke-width="4.6"/>
<line x1="1457.5" y1="2131.06" x2="1469" y2="2131.06" stroke-width="4.6"/>
<line x1="1457.5" y1="2043.17" x2="1469" y2="2043.17" stroke-width="4.6"/>
<line x1="1457.5" y1="1955.29" x2="1469" y2="1955.29" stroke-width="4.6"/>
<line x1="1457.5" y1="1867.4" x2="1469" y2="1867.4" stroke-width="4.6"/>
<line x1="1551.2" y1="2482.6" x2="1551.2" y2="2494.1" stroke-width="4.6"/>
<line x1="1740.1" y1="2482.6" x2="1740.1" y2="2494.1" stroke-width="4.6"/>
<line x1="1929" y1="2482.6" x2="1929" y2="2494.1" stroke-width="4.6"/>
<line x1="2117.9" y1="2482.6" x2="2117.9" y2="2494.1" stroke-width="4.6"/>
<line x1="2306.8" y1="2482.6" x2="2306.8" y2="2494.1" stroke-width="4.6"/>
<text id="yl_D_0" x="1452.97" y="2495.93" font-size="45.05" textLength="23.28" lengthAdjust="spacingAndGlyphs" text-anchor="end">0</text>
<text id="yl_D_1" x="1452.97" y="2408.05" font-size="45.05" textLength="46.56" lengthAdjust="spacingAndGlyphs" text-anchor="end">20</text>
<text id="yl_D_2" x="1452.97" y="2320.16" font-size="45.05" textLength="46.56" lengthAdjust="spacingAndGlyphs" text-anchor="end">40</text>
<text id="yl_D_3" x="1452.97" y="2232.28" font-size="45.05" textLength="46.56" lengthAdjust="spacingAndGlyphs" text-anchor="end">60</text>
<text id="yl_D_4" x="1452.97" y="2144.39" font-size="45.05" textLength="46.56" lengthAdjust="spacingAndGlyphs" text-anchor="end">80</text>
<text id="yl_D_5" x="1452.97" y="2056.5" font-size="45.05" textLength="69.84" lengthAdjust="spacingAndGlyphs" text-anchor="end">100</text>
<text id="yl_D_6" x="1452.97" y="1968.62" font-size="45.05" textLength="69.84" lengthAdjust="spacingAndGlyphs" text-anchor="end">120</text>
<text id="yl_D_7" x="1452.97" y="1880.73" font-size="45.05" textLength="69.84" lengthAdjust="spacingAndGlyphs" text-anchor="end">140</text>
<text id="xl_D_0" transform="translate(1568.54 2535.79) rotate(-45)" font-size="54.32" text-anchor="end">0</text>
<text id="xl_D_1" transform="translate(1757.44 2535.79) rotate(-45)" font-size="54.32" text-anchor="end">25</text>
<text id="xl_D_2" transform="translate(1946.34 2535.79) rotate(-45)" font-size="54.32" text-anchor="end">50</text>
<text id="xl_D_3" transform="translate(2135.24 2535.79) rotate(-45)" font-size="54.32" text-anchor="end">100</text>
<text id="xl_D_4" transform="translate(2324.14 2535.79) rotate(-45)" font-size="54.32" text-anchor="end">200</text>
<rect x="2207.5" y="1882.5" width="42" height="32.9" fill="#231f20" stroke="none"/>
<rect x="2209.2" y="1940.2" width="38.6" height="30" fill="url(#hL)" stroke="#231f20" stroke-width="3.4"/></g>
<text id="lab_a" x="28.68" y="85.31" font-size="78.37" textLength="92.82" lengthAdjust="spacingAndGlyphs">(a)</text>
<text id="lab_b" x="27.7" y="937.04" font-size="79.44" textLength="96.6" lengthAdjust="spacingAndGlyphs">(b)</text>
<text id="lab_c" x="28.42" y="1736.01" font-size="79.44" textLength="86.55" lengthAdjust="spacingAndGlyphs">(c)</text>
<text id="lab_d" x="1296.24" y="1736.01" font-size="79.44" textLength="94.46" lengthAdjust="spacingAndGlyphs">(d)</text>
<text id="yt_A" transform="translate(150.76 564.57) rotate(-90)" font-size="55" textLength="429.23" lengthAdjust="spacingAndGlyphs">Cell viability (%)</text>
<text id="yt_A2" transform="translate(1330.43 555.58) rotate(-90)" font-size="56.39" textLength="431.66" lengthAdjust="spacingAndGlyphs">Cell viability (%)</text>
<text id="yt_B" transform="translate(150.99 1395.53) rotate(-90)" font-size="56.44" textLength="424.17" lengthAdjust="spacingAndGlyphs">Cell viability (%)</text>
<text id="yt_B2" transform="translate(1331.75 1411.06) rotate(-90)" font-size="56.2" textLength="429.02" lengthAdjust="spacingAndGlyphs">Cell viability (%)</text>
<text id="yt_C" transform="translate(150.95 2389.62) rotate(-90)" font-size="56.39" textLength="438.94" lengthAdjust="spacingAndGlyphs">Cell viability (%)</text>
<text id="yt_D" transform="translate(1357.87 2365.89) rotate(-90)" font-size="51.54" textLength="399.68" lengthAdjust="spacingAndGlyphs">Cell viability (%)</text>
<text id="xt_A" x="476.45" y="820.44" font-size="55.19" textLength="260.46" lengthAdjust="spacingAndGlyphs">Oleic acid</text>
<text id="xu_A" x="750.61" y="820.37" font-size="54.58" textLength="124.58" lengthAdjust="spacingAndGlyphs"><tspan font-weight="normal">(</tspan><tspan font-family="'Liberation Serif', 'Times New Roman', serif" font-weight="normal">μ</tspan>M<tspan font-weight="normal">)</tspan></text>
<text id="xt_A2" x="1617.71" y="810" font-size="55.32" textLength="335.26" lengthAdjust="spacingAndGlyphs">Linoleic acid</text>
<text id="xu_A2" x="1967.43" y="810.66" font-size="55.22" textLength="123.17" lengthAdjust="spacingAndGlyphs"><tspan font-weight="normal">(</tspan><tspan font-family="'Liberation Serif', 'Times New Roman', serif" font-weight="normal">μ</tspan>M<tspan font-weight="normal">)</tspan></text>
<text id="xt_B" x="349.1" y="1658.02" font-size="55.83" textLength="514.52" lengthAdjust="spacingAndGlyphs">Pentadecanoic acid</text>
<text id="xu_B" x="878.2" y="1656.76" font-size="53.45" textLength="124.84" lengthAdjust="spacingAndGlyphs"><tspan font-weight="normal">(</tspan><tspan font-family="'Liberation Serif', 'Times New Roman', serif" font-weight="normal">μ</tspan>M<tspan font-weight="normal">)</tspan></text>
<text id="xt_B2" x="1528.11" y="1667.73" font-size="54.04" textLength="519.65" lengthAdjust="spacingAndGlyphs">Heptadecanoic acid</text>
<text id="xu_B2" x="2061.81" y="1666.87" font-size="52.98" textLength="123.17" lengthAdjust="spacingAndGlyphs"><tspan font-weight="normal">(</tspan><tspan font-family="'Liberation Serif', 'Times New Roman', serif" font-weight="normal">μ</tspan>M<tspan font-weight="normal">)</tspan></text>
<text id="xt_C" x="417.66" y="2654.34" font-size="59.3" textLength="377.33" lengthAdjust="spacingAndGlyphs">Concentration</text>
<text id="xu_C" x="810.26" y="2654.24" font-size="56.22" textLength="122.22" lengthAdjust="spacingAndGlyphs"><tspan font-weight="normal">(</tspan><tspan font-family="'Liberation Serif', 'Times New Roman', serif" font-weight="normal">μ</tspan>M<tspan font-weight="normal">)</tspan></text>
<text id="xt_D" x="1621.28" y="2688.08" font-size="52.23" textLength="484.57" lengthAdjust="spacingAndGlyphs">Pentadecanoic acid</text>
<text id="xu_D" x="2119.77" y="2687.19" font-size="49.88" textLength="115.98" lengthAdjust="spacingAndGlyphs"><tspan font-weight="normal">(</tspan><tspan font-family="'Liberation Serif', 'Times New Roman', serif" font-weight="normal">μ</tspan>M<tspan font-weight="normal">)</tspan></text>
<text id="lg_A1" x="1030.73" y="85.17" font-size="37.7" textLength="119.1" lengthAdjust="spacingAndGlyphs">MCF-7</text>
<text id="lg_A2" x="1030.74" y="139.59" font-size="35.36" textLength="183.68" lengthAdjust="spacingAndGlyphs">MCF-7/SC</text>
<text id="lg_A21" x="2236.65" y="76" font-size="38.83" textLength="120.19" lengthAdjust="spacingAndGlyphs">MCF-7</text>
<text id="lg_A22" x="2236.69" y="130.18" font-size="35.35" textLength="183.26" lengthAdjust="spacingAndGlyphs">MCF-7/SC</text>
<text id="lg_B1" x="1014.24" y="924.55" font-size="38.92" textLength="119.88" lengthAdjust="spacingAndGlyphs">MCF-7</text>
<text id="lg_B2" x="1014.23" y="982.61" font-size="36.23" textLength="184.27" lengthAdjust="spacingAndGlyphs">MCF-7/SC</text>
<text id="lg_B21" x="2234.7" y="930.56" font-size="39.12" textLength="119.59" lengthAdjust="spacingAndGlyphs">MCF-7</text>
<text id="lg_B22" x="2234.7" y="984.59" font-size="36.14" textLength="184.88" lengthAdjust="spacingAndGlyphs">MCF-7/SC</text>
<text id="lg_C1" x="1144.52" y="1918.79" font-size="48.23" textLength="125.88" lengthAdjust="spacingAndGlyphs">C15:0</text>
<text id="lg_C2" x="1142.89" y="1982.85" font-size="48.55" textLength="127.64" lengthAdjust="spacingAndGlyphs">C17:0</text>
<text id="lg_D1" x="2271.6" y="1913.68" font-size="42.78" textLength="87.82" lengthAdjust="spacingAndGlyphs">24 h</text>
<text id="lg_D2" x="2272.88" y="1969.68" font-size="43.35" textLength="87.35" lengthAdjust="spacingAndGlyphs">48 h</text>
<text class="st" transform="translate(1259 1438) scale(1 1.14)" y="25.5">*</text>
</svg></body></html>
